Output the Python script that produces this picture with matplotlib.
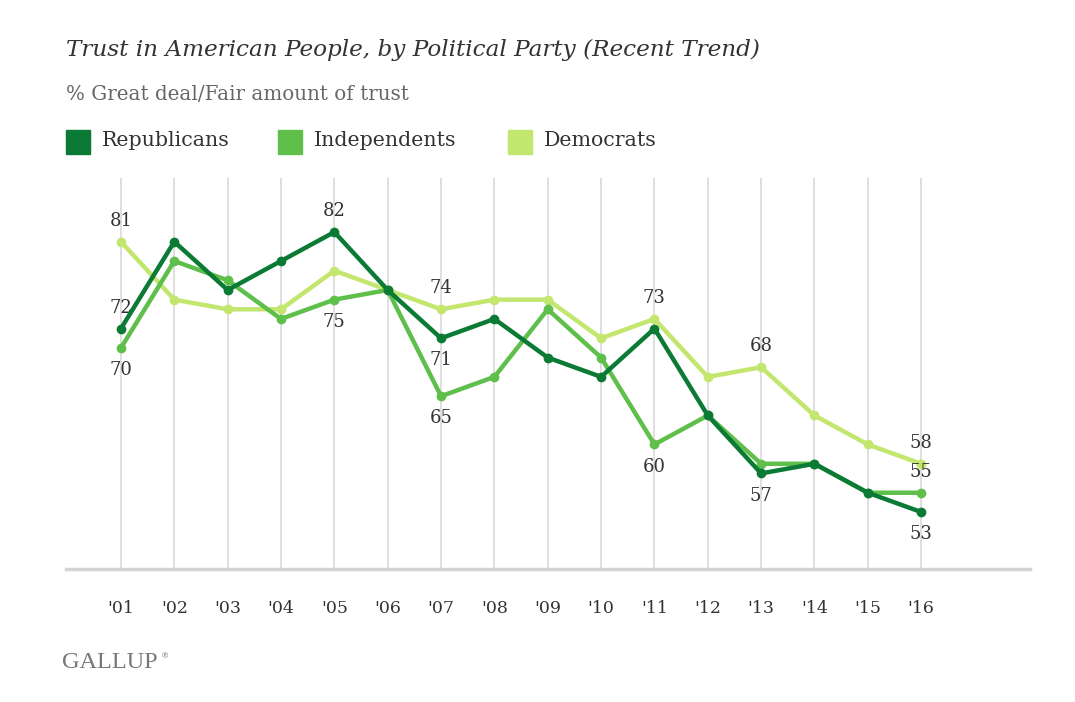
import matplotlib.pyplot as plt
from matplotlib.patches import Rectangle

# data
years = ["'01", "'02", "'03", "'04", "'05", "'06", "'07", "'08",
         "'09", "'10", "'11", "'12", "'13", "'14", "'15", "'16"]
republicans = [72, 81, 76, 79, 82, 76, 71, 73, 69, 67, 72, 63, 57, 58, 55, 53]
independents = [70, 79, 77, 73, 75, 76, 65, 67, 74, 69, 60, 63, 58, 58, 55, 55]
democrats = [81, 75, 74, 74, 78, 76, 74, 75, 75, 71, 73, 67, 68, 63, 60, 58]

series_names = ["Republicans", "Independents", "Democrats"]
colors = ["#0b7a34", "#5fbf4b", "#c3e66e"]

# (series index, year index, above?) for the value labels
labels = [(2, 0, True), (0, 0, True), (1, 0, False),
          (0, 4, True), (1, 4, False),
          (2, 6, True), (0, 6, False), (1, 6, False),
          (2, 10, True), (1, 10, False),
          (2, 12, True), (0, 12, False),
          (2, 15, True), (1, 15, True), (0, 15, False)]

plt.rcParams['font.family'] = ['DejaVu Serif']

fig = plt.figure(figsize=(10.75, 7.02), dpi=100)
ax = fig.add_axes([66 / 1075, 1 - 569 / 702, (1030 - 66) / 1075, (569 - 178) / 702])

x = list(range(len(years)))
data = [republicans, independents, democrats]

for xi in x:
    ax.axvline(xi, color="#d9d9d9", lw=1.2, zorder=0)

# draw democrats first so republicans sit on top
for i in [2, 1, 0]:
    ax.plot(x, data[i], color=colors[i], lw=3.2, marker="o", ms=6, zorder=3 + (2 - i))

for s, yi, above in labels:
    v = data[s][yi]
    off = 15 if above else -16
    ax.annotate(str(v), (yi, v), xytext=(0, off), textcoords="offset points",
                ha="center", va="center", fontsize=13, color="#333333")

ax.set_xlim(-1.03, 17.04)
ax.set_ylim(47.1, 87.6)
ax.set_xticks(x)
ax.set_xticklabels(years, fontsize=12.5, color="#333333")
ax.tick_params(axis="x", length=0, pad=22)
ax.set_yticks([])
for side in ["top", "right", "left"]:
    ax.spines[side].set_visible(False)
ax.spines["bottom"].set_color("#d4d4d4")
ax.spines["bottom"].set_linewidth(2.5)

fig.text(66 / 1075, 1 - 50 / 702, "Trust in American People, by Political Party (Recent Trend)",
         fontsize=16.7, style="italic", color="#333333", va="center")
fig.text(66 / 1075, 1 - 94 / 702, "% Great deal/Fair amount of trust",
         fontsize=14.3, color="#666666", va="center")

legend_x = [66, 278, 508]
for name, c, lx in zip(series_names, colors, legend_x):
    fig.patches.append(Rectangle((lx / 1075, 1 - 154 / 702), 24 / 1075, 24 / 702,
                                 transform=fig.transFigure, color=c))
    fig.text((lx + 36) / 1075, 1 - 141 / 702, name, fontsize=14.8, color="#333333", va="center")

fig.text(62 / 1075, 1 - 663 / 702, "GALLUP", fontsize=17.5, color="#777777", va="center",
             family="Liberation Serif")
fig.text(161 / 1075, 1 - 656 / 702, "\u00ae", fontsize=6, color="#777777", va="center")

fig.savefig("out.png", dpi=100)
